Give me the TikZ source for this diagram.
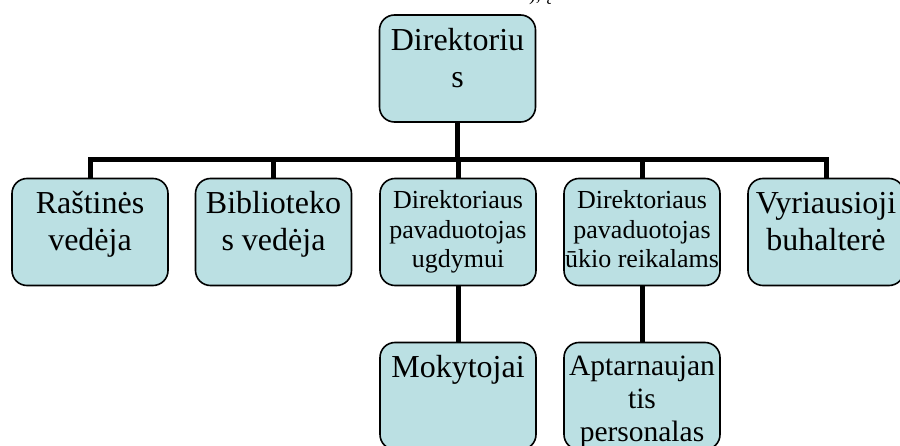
\documentclass[tikz,border=0pt]{standalone}
\usepackage{fontspec}
\setmainfont{Liberation Serif}
\definecolor{boxfill}{RGB}{187,224,227}
\tikzset{
  orgbox/.style={draw=black, line width=1.6pt, fill=boxfill, rounded corners=15pt,
    minimum width=156pt, minimum height=107pt, inner sep=0pt},
  bigtxt/.style={anchor=north, inner sep=0pt, align=center, font=\fontsize{32}{37}\selectfont},
  smalltxt/.style={anchor=north, inner sep=0pt, align=center, font=\fontsize{26}{29.5}\selectfont},
  midtxt/.style={anchor=north, inner sep=0pt, align=center, font=\fontsize{29.5}{33}\selectfont},
  conn/.style={draw=black, line width=5pt}
}
\begin{document}
\begin{tikzpicture}[x=1pt,y=-1pt]
\useasboundingbox (0,0) rectangle (900,446);
% boxes
\node[orgbox] (top) at (457.5,68.5) {};
\node[orgbox] (b1) at (90,232) {};
\node[orgbox] (b2) at (273.5,232) {};
\node[orgbox] (b3) at (458,232) {};
\node[orgbox] (b4) at (642,232) {};
\node[orgbox] (b5) at (826,232) {};
\node[orgbox] (b6) at (458,396) {};
\node[orgbox] (b7) at (642,396) {};
% connectors
\coordinate (bar) at (457.5,160);
\foreach \b in {b1,b2,b3,b4,b5}{
  \draw[conn] (top.south) -- (bar) -| (\b.north);
}
\draw[conn] (b3.south) -- (b6.north);
\draw[conn] (b4.south) -- (b7.north);
% texts
\node[bigtxt] (t0) at ([yshift=-10.1pt]top.north) {\strut Direktoriu\\s};
\node[bigtxt] (t1) at ([yshift=-10.1pt]b1.north) {\strut Raštinės\\vedėja};
\node[bigtxt] (t2) at ([yshift=-10.1pt]b2.north) {\strut Biblioteko\\s vedėja};
\node[smalltxt] (t3) at ([yshift=-10.35pt]b3.north) {\strut Direktoriaus\\pavaduotojas\\ugdymui};
\node[smalltxt] (t4) at ([yshift=-10.35pt]b4.north) {\strut Direktoriaus\\pavaduotojas\\ūkio reikalams};
\node[bigtxt] (t5) at ([yshift=-10.1pt]b5.north) {\strut Vyriausioji\\buhalterė};
\node[bigtxt] (t6) at ([yshift=-10.1pt]b6.north) {\strut Mokytojai};
\node[midtxt] (t7) at ([yshift=-10.9pt]b7.north) {\strut Aptarnaujan\\tis\\personalas};
% clipped fragment of text above
\node[anchor=base west, inner sep=0pt, font=\fontsize{20}{24}\selectfont] (frag) at (529,1) {), į};
\end{tikzpicture}
\end{document}
